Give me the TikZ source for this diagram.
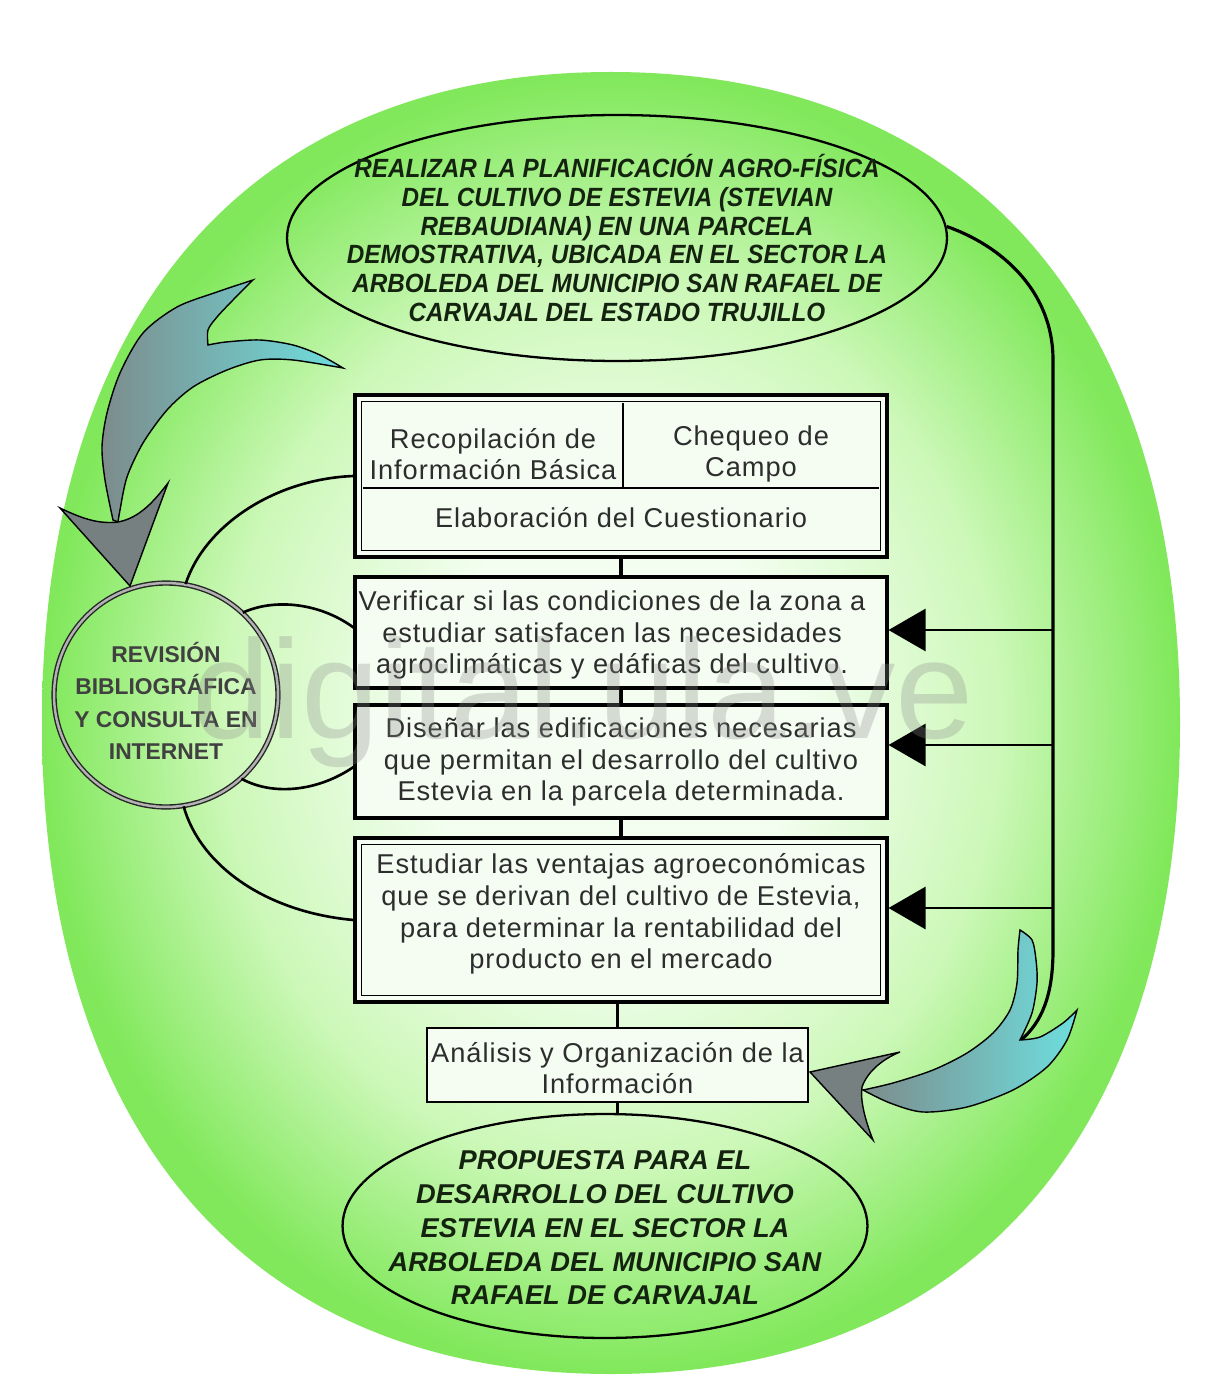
\documentclass[tikz,border=0pt]{standalone}
\usepackage{fontspec}
\setmainfont{Liberation Sans}
\newfontfamily\narrowfont[FakeStretch=0.92]{Liberation Sans}
\newfontfamily\boxfont[LetterSpace=3.5]{Liberation Sans}
\usetikzlibrary{arrows.meta,shapes.geometric}
\definecolor{bgcA}{RGB}{243,254,240}
\definecolor{bgcB}{RGB}{205,248,185}
\definecolor{bgcC}{RGB}{128,232,90}
\definecolor{boxfill}{RGB}{245,252,242}
\definecolor{txtgray}{RGB}{45,45,45}
\definecolor{ovaltxt}{RGB}{20,35,15}
\definecolor{arrGray}{RGB}{125,140,140}
\definecolor{arrCyan}{RGB}{110,222,222}
\definecolor{headGray}{RGB}{118,128,128}
\pgfdeclareradialshading{bgshade}{\pgfpoint{0bp}{0bp}}{color(0bp)=(bgcA); color(8bp)=(bgcA); color(17bp)=(bgcB); color(25bp)=(bgcC); color(50bp)=(bgcC)}
\tikzset{
  flowbox/.style={draw=black, line width=1.8pt, fill=boxfill, minimum width=10.64cm, inner sep=0pt},
  boxtext/.style={font=\boxfont\fontsize{15.5}{18}\selectfont, text=txtgray, align=center, inner sep=0pt},
  oval/.style={ellipse, draw=black, line width=1.3pt, inner sep=0pt},
  toptext/.style={font=\narrowfont\bfseries\itshape\fontsize{15}{16.5}\selectfont, text=ovaltxt, align=center, inner sep=0pt},
  bottext/.style={font=\bfseries\itshape\fontsize{15.5}{19.2}\selectfont, text=ovaltxt, align=center, inner sep=0pt},
  circtext/.style={font=\bfseries\fontsize{13}{18.5}\selectfont, text=black!75, align=center, inner sep=0pt},
  conn/.style={draw=black, line width=1.8pt},
  feed/.style={draw=black, line width=1.6pt, -{Triangle[length=0.74cm,width=0.84cm]}},
  blockarrow/.style={draw=black, line width=0.8pt, left color=arrGray, right color=arrCyan},
  headfill/.style={fill=headGray, draw=black, line width=0.8pt},
}
\begin{document}
\begin{tikzpicture}[x=0.02cm, y=-0.02cm]
\useasboundingbox (0,0) rectangle (1206,1388);
\fill[white] (0,0) rectangle (1206,1388);
% background green oval
\shade[shading=bgshade] (611,72) .. controls (970,72) and (1180,310) .. (1180,723)
  .. controls (1180,1136) and (970,1374) .. (611,1374)
  .. controls (252,1374) and (42,1136) .. (42,723)
  .. controls (42,310) and (252,72) .. (611,72) -- cycle;

% top and bottom ovals
\node[oval, minimum width=13.2cm, minimum height=4.92cm] (top) at (617,238) {};
\node[toptext] (toptxt) at (top.center) {REALIZAR LA PLANIFICACIÓN AGRO-FÍSICA\\DEL CULTIVO DE ESTEVIA (STEVIAN\\REBAUDIANA) EN UNA PARCELA\\DEMOSTRATIVA, UBICADA EN EL SECTOR LA\\ARBOLEDA DEL MUNICIPIO SAN RAFAEL DE\\CARVAJAL DEL ESTADO TRUJILLO};

\node[oval, minimum width=10.5cm, minimum height=4.48cm] (bot) at (605,1226) {};
\node[bottext] (bottxt) at (605,1228) {PROPUESTA PARA EL\\DESARROLLO DEL CULTIVO\\ESTEVIA EN EL SECTOR LA\\ARBOLEDA DEL MUNICIPIO SAN\\RAFAEL DE CARVAJAL};

% box 1
\node[flowbox, minimum height=3.24cm] (b1) at (621,476) {};
\draw[line width=0.9pt] ([shift={(8,8)}]b1.north west) rectangle ([shift={(-8,-8)}]b1.south east);
\coordinate (d1) at (363,488);
\coordinate (d2) at (879,488);
\coordinate (v1) at (623,403);
\draw[line width=0.9pt] (d1) -- (d2);
\draw[line width=0.9pt] (v1) -- (v1 |- d1);
\node[boxtext] (t1a) at (493,454) {Recopilación de\\Información Básica};
\node[boxtext] (t1b) at (751,454) {Chequeo de\\Campo};
\node[boxtext] (t1c) at (621,518) {Elaboración del Cuestionario};

% box 2
\node[flowbox, minimum height=2.22cm] (b2) at (621,632.5) {};
\node[boxtext] (t2) at (612,635) {Verificar si las condiciones de la zona a\\estudiar satisfacen las necesidades\\agroclimáticas y edáficas del cultivo.};

% box 3
\node[flowbox, minimum height=2.26cm] (b3) at (621,761.5) {};
\node[boxtext] (t3) at (621,762) {Diseñar las edificaciones necesarias\\que permitan el desarrollo del cultivo\\Estevia en la parcela determinada.};

% box 4
\node[flowbox, minimum height=3.28cm] (b4) at (621,920) {};
\draw[line width=0.9pt] ([shift={(8,8)}]b4.north west) rectangle ([shift={(-8,-8)}]b4.south east);
\node[boxtext] (t4) at (621,914) {Estudiar las ventajas agroeconómicas\\que se derivan del cultivo de  Estevia,\\para determinar la rentabilidad del\\producto en el mercado};

% box 5
\node[flowbox, minimum width=7.62cm, minimum height=1.48cm, line width=1.6pt] (b5) at (617.5,1065) {};
\node[boxtext] (t5) at (617.5,1068) {Análisis y Organización de la\\Información};

% circle
\node[circle, minimum size=4.48cm, inner sep=0pt, draw=black!85, double=black!30, double distance=1.4pt, line width=0.8pt] (rev) at (166,695) {};
\node[circtext] (revtxt) at (166,701) {REVISIÓN\\BIBLIOGRÁFICA\\Y CONSULTA EN\\INTERNET};

% vertical flow connectors
\draw[conn] (b1.south) -- (b2.north);
\draw[conn] (b2.south) -- (b3.north);
\draw[conn] (b3.south) -- (b4.north);
\draw[conn] (b4.south -| b5.north) -- (b5.north);
\draw[conn] (b5.south) -- (b5.south |- bot.north);

% left connectors from circle
\draw[conn, line width=1.5pt] (b1.west) .. controls (275,479) and (205,525) .. (rev.80);
\draw[conn, line width=1.5pt] (rev.47) .. controls (275,598) and (320,603) .. ([shift={(0,-5)}]b2.west);
\draw[conn, line width=1.5pt] (rev.-48) .. controls (275,797) and (320,790) .. ([shift={(0,5.5)}]b3.west);
\draw[conn, line width=1.5pt] (rev.-81) .. controls (200,865) and (265,912) .. (b4.west);

% right feedback line and arrows
\coordinate (rB) at (1021,1040);
\draw[conn] (top.2) .. controls (1000,245) and (1053,290) .. (1053,360) -- (1053,950) .. controls (1053,995) and (1042,1022) .. (rB);
\coordinate (r1) at (1053,630);
\coordinate (r2) at (1053,745);
\coordinate (r3) at (1053,908);
\draw[feed] (r1) -- (r1 -| b2.east);
\draw[feed] (r2) -- (r2 -| b3.east);
\draw[feed] (r3) -- (r3 -| b4.east);

% left curved block arrow
\shade[blockarrow] plot[smooth] coordinates {(253,280) (233,300) (217,317) (208,330) (208,345)}
  -- plot[smooth] coordinates {(208,345) (226,342) (260,340) (293,345) (320,355) (343,368)}
  -- plot[smooth] coordinates {(343,368) (293,360) (260,360) (227,370) (193,387) (167,410) (143,443) (127,477) (120,510) (118,522)}
  -- plot[smooth] coordinates {(113,520) (105,480) (102,447) (107,413) (120,373) (143,333) (177,307) (217,292) (253,280)}
  -- cycle;
\path[headfill] (60,508) .. controls (85,520) and (100,524) .. (118,522) .. controls (140,518) and (155,500) .. (168,483) -- (130,586) -- cycle;

% right curved block arrow
\shade[blockarrow] plot[smooth] coordinates {(1020,930) (1032,940) (1036,960) (1037,983) (1032,1013) (1020,1040)}
  -- plot[smooth] coordinates {(1020,1040) (1040,1037) (1063,1023) (1077,1010)}
  -- plot[smooth] coordinates {(1077,1010) (1067,1040) (1047,1067) (1013,1090) (967,1107) (923,1112) (890,1103) (863,1090)}
  -- plot[smooth] coordinates {(863,1090) (893,1083) (933,1070) (967,1053) (993,1033) (1010,1010) (1017,983) (1018,950) (1020,930)}
  -- cycle;
\path[headfill] (900,1052) -- (810,1072) -- (873,1140) .. controls (865,1120) and (860,1100) .. (862,1087) .. controls (868,1070) and (885,1058) .. (900,1052) -- cycle;

% watermark
\node[font=\fontsize{80}{80}\selectfont, text=black!45, opacity=0.3, anchor=base, inner sep=0pt] (wm) at (583,738) {digital.ula.ve};
\end{tikzpicture}
\end{document}
